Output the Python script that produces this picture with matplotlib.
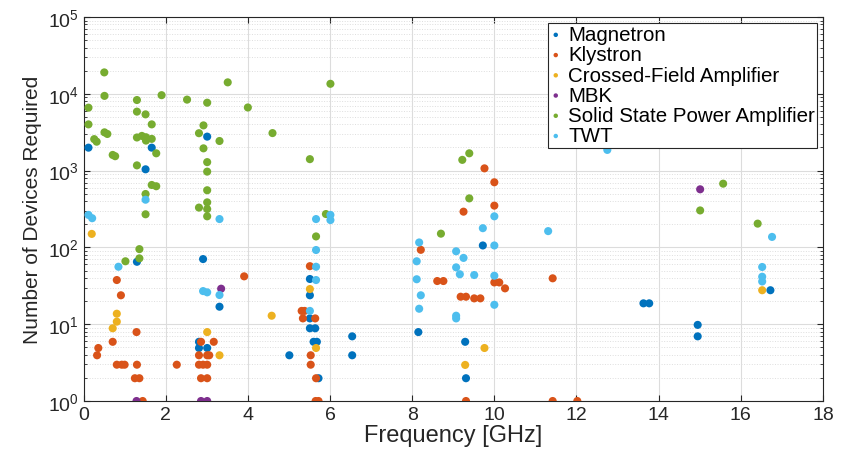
import matplotlib
matplotlib.use("Agg")
import matplotlib.pyplot as plt
from matplotlib.ticker import LogLocator, FixedLocator

# values (frequency in GHz, number of devices)
magnetron_x = [0.12, 1.66, 1.51, 3.01, 1.30, 2.91, 3.31, 2.81, 2.81, 3.01, 5.51, 5.51, 5.51,
               5.51, 5.64, 5.60, 5.68, 6.54, 5.01, 6.54, 5.72, 8.15, 9.29, 9.31, 9.72, 13.63,
               13.77, 14.95, 14.95, 16.72]
magnetron_y = [1990, 1990, 1040, 2770, 65, 70.5, 16.9, 5.9, 4.9, 4.9, 38.8, 23.8, 11.9,
               8.85, 8.85, 5.9, 5.9, 6.95, 3.94, 3.94, 1.98, 7.9, 5.9, 1.98, 106, 18.7,
               18.7, 9.8, 6.95, 27.7]

klystron_x = [0.81, 0.91, 1.29, 0.71, 0.36, 0.33, 0.81, 0.93, 1.0, 1.30, 1.25, 1.36, 1.44,
              2.27, 2.86, 3.17, 2.81, 3.01, 3.06, 2.81, 2.91, 3.01, 2.86, 3.01, 3.91, 5.51,
              5.31, 5.38, 5.34, 5.64, 5.53, 5.53, 5.66, 5.65, 5.72, 8.21, 8.61, 8.76, 9.18,
              9.25, 9.31, 9.51, 9.66, 9.76, 10.0, 10.0, 10.0, 10.12, 10.26, 11.42, 9.31,
              11.42, 12.02]
klystron_y = [37.6, 23.8, 7.9, 5.9, 4.9, 3.94, 2.97, 2.97, 2.97, 2.97, 1.98, 1.98, 1,
              2.97, 5.9, 5.9, 3.94, 3.94, 3.94, 2.97, 2.97, 2.97, 1.98, 1.98, 42, 57,
              14.9, 14.9, 11.9, 11.9, 3.94, 2.97, 1.98, 1, 1, 93, 36.5, 36.5, 22.8,
              292, 22.8, 21.7, 21.7, 1070, 705, 350, 35, 35, 29.3, 39.6, 1,
              1, 1]

cfa_x = [0.2, 0.81, 0.81, 0.71, 3.01, 3.31, 4.58, 5.51, 5.66, 9.29, 9.76, 16.52]
cfa_y = [150, 13.7, 10.8, 8.85, 7.9, 3.94, 12.9, 28.7, 4.9, 2.95, 4.9, 27.7]

mbk_x = [1.29, 3.35, 2.86, 3.01, 15.01]
mbk_y = [1, 29, 1, 1, 571]

sspa_x = [0.505, 0.12, 0.51, 0.12, 0.51, 0.58, 0.26, 0.32, 0.71, 0.77, 1.30, 1.30, 1.51,
          1.66, 1.30, 1.42, 1.52, 1.66, 1.52, 1.77, 1.30, 1.66, 1.77, 1.51, 1.51, 1.90,
          2.52, 3.01, 3.51, 4.0, 4.6, 2.92, 2.81, 3.31, 2.92, 3.01, 3.01, 3.01, 3.01,
          2.81, 3.01, 3.01, 1.36, 1.36, 1.02, 5.51, 6.01, 9.22, 5.90, 5.66, 8.70, 9.39,
          9.39, 15.01, 15.57, 16.41]
sspa_y = [19000, 6600, 9400, 4000, 3150, 3000, 2570, 2380, 1600, 1540, 8300, 5860, 5400,
          4000, 2700, 2830, 2720, 2590, 2460, 1680, 1170, 650, 626, 496, 270, 9600,
          8400, 7660, 14100, 6640, 3080, 3880, 3070, 2430, 1950, 1290, 970, 555, 386,
          330, 316, 254, 95, 72, 66, 1410, 13500, 1380, 272, 139, 151, 1680,
          435, 303, 676, 204]

twt_x = [0.12, 0.21, 0.85, 1.51, 2.91, 3.01, 3.31, 3.31, 5.66, 6.01, 6.01, 5.66, 5.66,
         5.66, 5.51, 8.17, 9.07, 8.11, 9.07, 9.16, 9.25, 8.11, 8.21, 8.17, 9.07, 9.07,
         10.0, 9.72, 11.31, 10.0, 9.51, 10.0, 10.0, 12.75, 16.76, 16.52, 16.52, 16.52]
twt_y = [265, 240, 56, 418, 27, 26, 24, 234, 234, 265, 227, 92.5, 56,
         37.6, 14.9, 116, 89, 66, 55, 44.7, 73, 38.5, 23.8, 15.9, 12.9, 11.9,
         254, 178, 163, 106, 43.7, 42.8, 17.9, 1860, 137, 55.6, 41.5, 36]

series = [
    ("Magnetron", magnetron_x, magnetron_y, "#0072BD"),
    ("Klystron", klystron_x, klystron_y, "#D95319"),
    ("Crossed-Field Amplifier", cfa_x, cfa_y, "#EDB120"),
    ("MBK", mbk_x, mbk_y, "#7E2F8E"),
    ("Solid State Power Amplifier", sspa_x, sspa_y, "#77AC30"),
    ("TWT", twt_x, twt_y, "#4DBEEE"),
]

plt.rcParams["font.family"] = ["Liberation Sans", "DejaVu Sans"]
plt.rcParams["mathtext.fontset"] = "custom"
plt.rcParams["mathtext.rm"] = "Liberation Sans"

fig = plt.figure(figsize=(8.48, 4.56), dpi=100)
ax = fig.add_axes([0.0985, 0.1184, 0.8720, 0.8421])

for name, xs, ys, col in series:
    ax.scatter(xs, ys, s=34, color=col, edgecolors="none", label=name, zorder=3)

ax.set_yscale("log")
ax.set_xlim(0, 18)
ax.set_ylim(1, 1e5)
ax.xaxis.set_major_locator(FixedLocator(range(0, 19, 2)))
ax.yaxis.set_major_locator(LogLocator(base=10, numticks=10))
ax.yaxis.set_minor_locator(LogLocator(base=10, subs=range(2, 10), numticks=10))

ax.grid(True, which="major", color="#dcdcdc", linewidth=0.8, zorder=0)
ax.grid(True, which="minor", axis="y", color="#dedede", linestyle=":", linewidth=0.7, zorder=0)
ax.set_axisbelow(True)

ax.tick_params(which="both", direction="in", top=True, right=True, labelsize=14,
               color="#262626", labelcolor="#262626")
ax.tick_params(which="major", length=4)
ax.tick_params(which="minor", length=2)
for sp in ax.spines.values():
    sp.set_color("#262626")
    sp.set_linewidth(0.8)

ax.set_xlabel("Frequency [GHz]", fontsize=17, color="#262626", labelpad=1)
ax.set_ylabel("Number of Devices Required", fontsize=15, color="#262626", labelpad=4)

leg = ax.legend(loc="upper right", fontsize=14.8, markerscale=0.55, handletextpad=0.35,
                handlelength=0.5, borderpad=0.12, labelspacing=0.06, fancybox=False,
                framealpha=1, borderaxespad=0, bbox_to_anchor=(0.9925, 0.985))
leg.get_frame().set_edgecolor("#262626")
leg.get_frame().set_linewidth(0.8)

fig.savefig("out.png", dpi=100)
